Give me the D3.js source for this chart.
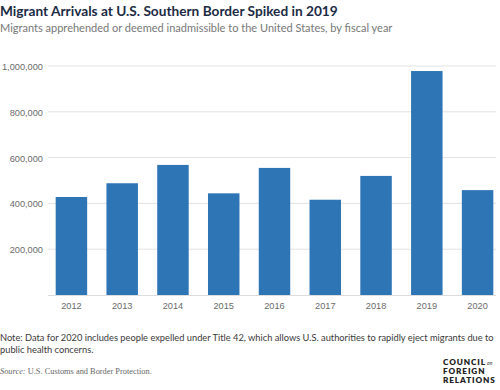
<!DOCTYPE html>
<html><head><meta charset="utf-8">
<script src="https://cdn.jsdelivr.net/npm/d3@7"></script>
<style>
body{margin:0;background:#fff;}
svg{display:block;}
</style></head>
<body>
<svg id="chart" width="500" height="390"></svg>
<script>
const years = ["2012","2013","2014","2015","2016","2017","2018","2019","2020"];
const arrivals = [428000, 488000, 568000, 444000, 555000, 416000, 520000, 978000, 458000];
const yTicks = [200000, 400000, 600000, 800000, 1000000];

const svg = d3.select("#chart");
const font = "Lato, 'Open Sans', sans-serif";
const axisFont = "'Liberation Sans Narrow', 'Liberation Sans', Arial, sans-serif";

function fitText(sel, target){
  const n = sel.node();
  const w = n.getComputedTextLength();
  const fs = parseFloat(sel.attr("font-size"));
  sel.attr("font-size", (fs*target/w).toFixed(2));
}

const x = d3.scaleBand().domain(years).range([50.6, 498.4]).paddingInner(0.38).paddingOuter(0.1);
const y = d3.scaleLinear().domain([0, 1000000]).range([295, 66]);

// gridlines
svg.append("g").selectAll("line").data(yTicks).join("line")
  .attr("x1", 48).attr("x2", 496)
  .attr("y1", d => y(d)).attr("y2", d => y(d))
  .attr("stroke", "#e2e2e2").attr("stroke-width", 1);

// measure axis font size
const probe = svg.append("text").attr("font-family", axisFont).attr("font-size", 11).text("1,000,000");
fitText(probe, 41);
const axisSize = Math.min(12, parseFloat(probe.attr("font-size")));
probe.remove();

// y labels
svg.append("g").selectAll("text").data(yTicks).join("text")
  .attr("x", 43).attr("y", d => y(d) + 4)
  .attr("text-anchor", "end")
  .attr("font-family", axisFont).attr("font-size", axisSize).attr("fill", "#6b6b6b")
  .text(d => d3.format(",")(d));

// bars
svg.append("g").selectAll("rect").data(years).join("rect")
  .attr("x", d => x(d)).attr("width", x.bandwidth())
  .attr("y", (d,i) => y(arrivals[i]))
  .attr("height", (d,i) => y(0) - y(arrivals[i]))
  .attr("fill", "#2e75b6");

// baseline
svg.append("line").attr("x1", 48).attr("x2", 496).attr("y1", y(0)+0.5).attr("y2", y(0)+0.5)
  .attr("stroke", "#dcdcdc").attr("stroke-width", 1);

// x labels
svg.append("g").selectAll("text").data(years).join("text")
  .attr("x", d => x(d) + x.bandwidth()/2).attr("y", 309)
  .attr("text-anchor", "middle")
  .attr("font-family", axisFont).attr("font-size", axisSize).attr("fill", "#6b6b6b")
  .text(d => d);

// title
const t = svg.append("text").attr("x", 0).attr("y", 16)
  .attr("font-family", font).attr("font-weight", 700).attr("font-size", 15).attr("fill", "#1c2b45")
  .text("Migrant Arrivals at U.S. Southern Border Spiked in 2019");
fitText(t, 338);
const st = svg.append("text").attr("x", 0).attr("y", 32)
  .attr("font-family", font).attr("font-size", 12).attr("fill", "#777")
  .text("Migrants apprehended or deemed inadmissible to the United States, by fiscal year");
fitText(st, 393);

// note
const n1 = svg.append("text").attr("x", 0).attr("y", 341)
  .attr("font-family", font).attr("font-size", 10.5).attr("fill", "#3a3a3a")
  .text("Note: Data for 2020 includes people expelled under Title 42, which allows U.S. authorities to rapidly eject migrants due to");
fitText(n1, 494);
svg.append("text").attr("x", 0).attr("y", 353)
  .attr("font-family", font).attr("font-size", n1.attr("font-size")).attr("fill", "#3a3a3a")
  .text("public health concerns.");

// source
const src = svg.append("text").attr("x", 0).attr("y", 374)
  .attr("font-family", "'Liberation Serif', 'DejaVu Serif', serif").attr("font-size", 9).attr("fill", "#666");
src.append("tspan").attr("font-style", "italic").text("Source:");
src.append("tspan").text(" U.S. Customs and Border Protection.");
fitText(src, 152);

// logo
const logo = svg.append("g").attr("font-family", font).attr("font-weight", 800).attr("fill", "#222").attr("font-size", 8.2).attr("letter-spacing", 0.9);
const c = logo.append("text").attr("x", 443).attr("y", 365);
c.append("tspan").text("COUNCIL");
c.append("tspan").attr("font-size", 5).attr("font-style", "italic").attr("font-weight", 400).attr("letter-spacing", 0).text(" on");
logo.append("text").attr("x", 443).attr("y", 374).text("FOREIGN");
logo.append("text").attr("x", 443).attr("y", 383).text("RELATIONS");
</script>
</body></html>
